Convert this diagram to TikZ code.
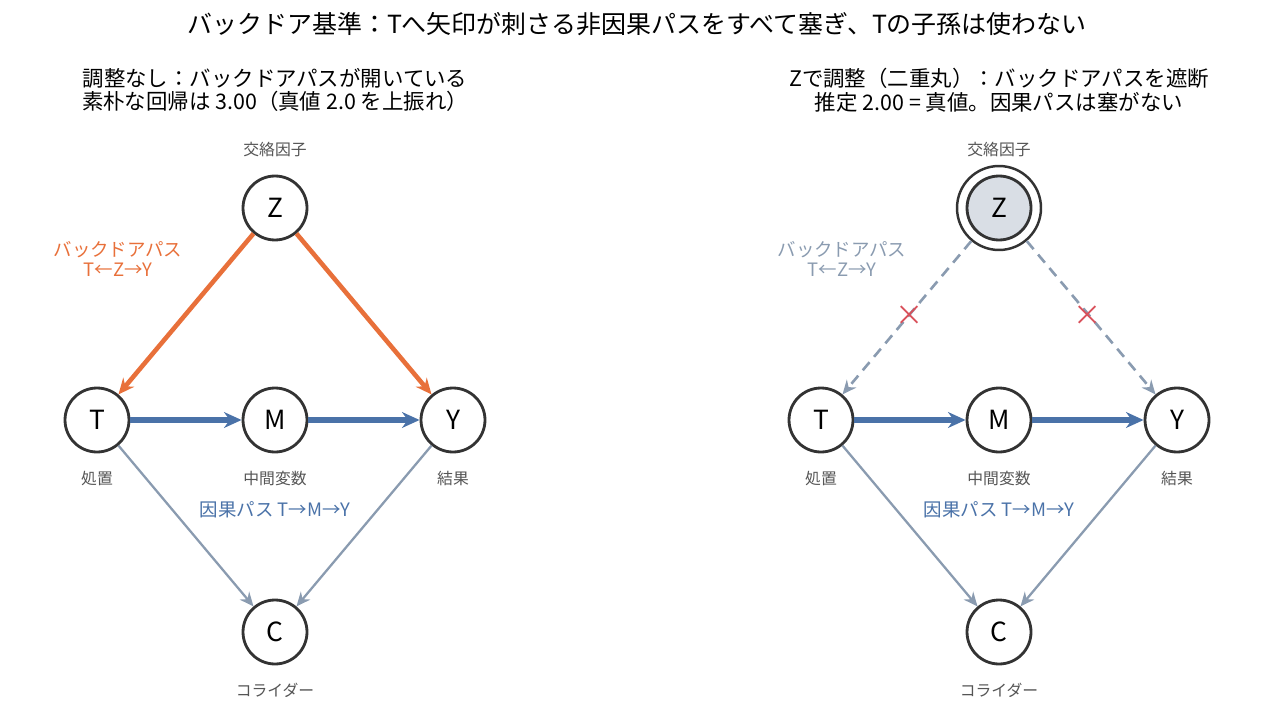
\documentclass[tikz,border=0pt]{standalone}
\usepackage{fontspec}
\setmainfont{Noto Sans CJK JP}
\usetikzlibrary{arrows.meta}
\definecolor{orng}{HTML}{E8703A}
\definecolor{blu}{HTML}{4A72A8}
\definecolor{gry}{HTML}{8A9BB0}
\definecolor{txt}{HTML}{555555}
\definecolor{fillz}{HTML}{D9DEE5}
\definecolor{redx}{HTML}{D9505A}
\begin{document}
\begin{tikzpicture}[x=0.02cm,y=-0.02cm,
  nd/.style={circle,draw=black!80,line width=1.6pt,minimum size=1.28cm,inner sep=0pt,fill=white,font=\fontsize{15}{18}\selectfont},
  lb/.style={text=txt,font=\fontsize{9}{11}\selectfont},
  sub/.style={font=\fontsize{12.2}{13.5}\selectfont,align=center},
  bd/.style={orng,line width=2.6pt,-{Stealth[length=9pt,width=8pt]}},
  cz/.style={blu,line width=3pt,-{Stealth[length=10pt,width=9pt]}},
  cl/.style={gry,line width=1.3pt,-{Stealth[length=8pt,width=7pt]}},
  bk/.style={gry,line width=1.5pt,dash pattern=on 6pt off 4pt,-{Stealth[length=8pt,width=7pt]}}]
\useasboundingbox (0,0) rectangle (1274,716);
\node[font=\fontsize{14.2}{17}\selectfont] (title) at (637,24) {バックドア基準：Tへ矢印が刺さる非因果パスをすべて塞ぎ、Tの子孫は使わない};
% left
\node[sub] (s1) at (275,90) {調整なし：バックドアパスが開いている\\素朴な回帰は 3.00（真値 2.0 を上振れ）};
\node[nd] (Z) at (275,208) {Z};
\node[nd] (T) at (97,420) {T};
\node[nd] (M) at (275,420) {M};
\node[nd] (Y) at (453,420) {Y};
\node[nd] (C) at (275,632) {C};
\node[lb] (lz) at (275,150) {交絡因子};
\node[lb] (lt) at (97,479) {処置};
\node[lb] (lm) at (275,479) {中間変数};
\node[lb] (ly) at (453,479) {結果};
\node[lb] (lc) at (275,690) {コライダー};
\node[orng,align=center,font=\fontsize{10.5}{11.5}\selectfont] (bl) at (118,259) {バックドアパス\\T←Z→Y};
\node[blu,font=\fontsize{10.5}{12}\selectfont] (cp) at (275,510) {因果パス T→M→Y};
\draw[bd] (Z) -- (T);
\draw[bd] (Z) -- (Y);
\draw[cz] (T) -- (M);
\draw[cz] (M) -- (Y);
\draw[cl] (T) -- (C);
\draw[cl] (Y) -- (C);
% right
\node[sub] (s2) at (999,90) {Zで調整（二重丸）：バックドアパスを遮断\\推定 2.00 = 真値。因果パスは塞がない};
\node[circle,draw=black!80,line width=1.4pt,minimum size=1.68cm,inner sep=0pt] (Zo) at (999,208) {};
\node[nd,fill=fillz] (Z2) at (999,208) {Z};
\node[nd] (T2) at (821,420) {T};
\node[nd] (M2) at (999,420) {M};
\node[nd] (Y2) at (1177,420) {Y};
\node[nd] (C2) at (999,632) {C};
\node[lb] (lz2) at (999,150) {交絡因子};
\node[lb] (lt2) at (821,479) {処置};
\node[lb] (lm2) at (999,479) {中間変数};
\node[lb] (ly2) at (1177,479) {結果};
\node[lb] (lc2) at (999,690) {コライダー};
\node[gry,align=center,font=\fontsize{10.5}{11.5}\selectfont] (bl2) at (842,259) {バックドアパス\\T←Z→Y};
\node[blu,font=\fontsize{10.5}{12}\selectfont] (cp2) at (999,510) {因果パス T→M→Y};
\draw[bk] (Zo) -- (T2);
\draw[bk] (Zo) -- (Y2);
\node[redx,font=\fontsize{16}{16}\selectfont] (x1) at (910,316) {×};
\node[redx,font=\fontsize{16}{16}\selectfont] (x2) at (1088,316) {×};
\draw[cz] (T2) -- (M2);
\draw[cz] (M2) -- (Y2);
\draw[cl] (T2) -- (C2);
\draw[cl] (Y2) -- (C2);
\end{tikzpicture}
\end{document}
